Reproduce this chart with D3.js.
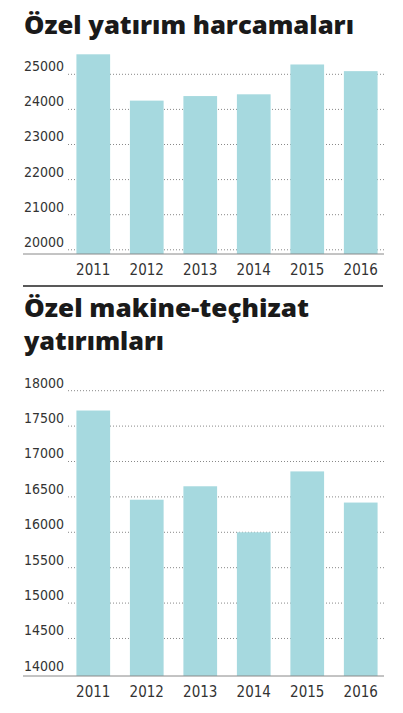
<!DOCTYPE html>
<html><head><meta charset="utf-8">
<script src="https://cdn.jsdelivr.net/npm/d3@7"></script>
<style>body{margin:0;background:#fff}</style>
</head><body>
<script>
const years = ["2011", "2012", "2013", "2014", "2015", "2016"];
const ozelYatirim = [25570, 24250, 24380, 24430, 25280, 25090];
const yatirimTicks = [20000, 21000, 22000, 23000, 24000, 25000];
const makine = [17720, 16460, 16650, 16000, 16860, 16420];
const makineTicks = [14000, 14500, 15000, 15500, 16000, 16500, 17000, 17500, 18000];

const svg = d3.select("body").append("svg").attr("width", 403).attr("height", 713);
const font = "'Liberation Sans Narrow', 'DejaVu Sans Condensed', Roboto, sans-serif";

function title(lines, y0) {
    lines.forEach((t, i) => {
        svg.append("text").attr("x", 24).attr("y", y0 + i * 33)
            .attr("font-family", "'Open Sans', sans-serif").attr("font-weight", 800)
            .attr("font-size", 25).attr("fill", "#1a1a1a")
            .attr("textLength", t.len).attr("lengthAdjust", "spacingAndGlyphs")
            .text(t.text);
    });
}

function panel(values, ticks, domain, range, xr) {
    const y = d3.scaleLinear().domain(domain).range(range);
    const x = d3.scaleBand().domain(years).range(xr).paddingInner(0.37).paddingOuter(0.12);
    const g = svg.append("g");
    g.selectAll(".grid").data(ticks.filter(t => y(t) < range[0] - 4)).enter().append("line")
        .attr("x1", 68).attr("x2", 384).attr("y1", d => y(d)).attr("y2", d => y(d))
        .attr("stroke", "#888").attr("stroke-dasharray", "1,2");
    g.selectAll(".lab").data(ticks).enter().append("text")
        .attr("x", 24).attr("y", d => Math.min(y(d) - 3, range[0] - 5))
        .attr("font-family", font).attr("font-size", 14).attr("fill", "#333")
        .text(d => d);
    g.selectAll("rect").data(values).enter().append("rect")
        .attr("x", (d, i) => x(years[i])).attr("width", x.bandwidth())
        .attr("y", d => y(d)).attr("height", d => range[0] - y(d))
        .attr("fill", "#a6d9df");
    g.append("line").attr("x1", 23).attr("x2", 384).attr("y1", range[0]).attr("y2", range[0])
        .attr("stroke", "#888").attr("stroke-width", 1);
    const xa = d3.axisBottom(x).tickSize(0).tickPadding(10);
    g.append("g").attr("transform", `translate(0,${range[0]})`).call(xa)
        .call(s => s.select(".domain").remove())
        .selectAll("text").attr("font-family", font).attr("font-size", 15).attr("fill", "#333");
}

title([{text: "Özel yatırım harcamaları", len: 330}], 34);
panel(ozelYatirim, yatirimTicks, [19880, 25000], [254, 74.3], [70, 384]);
svg.append("line").attr("x1", 23).attr("x2", 383).attr("y1", 286).attr("y2", 286)
    .attr("stroke", "#222").attr("stroke-width", 1.5);
title([{text: "Özel makine-teçhizat", len: 285}, {text: "yatırımları", len: 140}], 317);
panel(makine, makineTicks, [13970, 18000], [676, 390.7], [70, 384]);
</script>
</body></html>
